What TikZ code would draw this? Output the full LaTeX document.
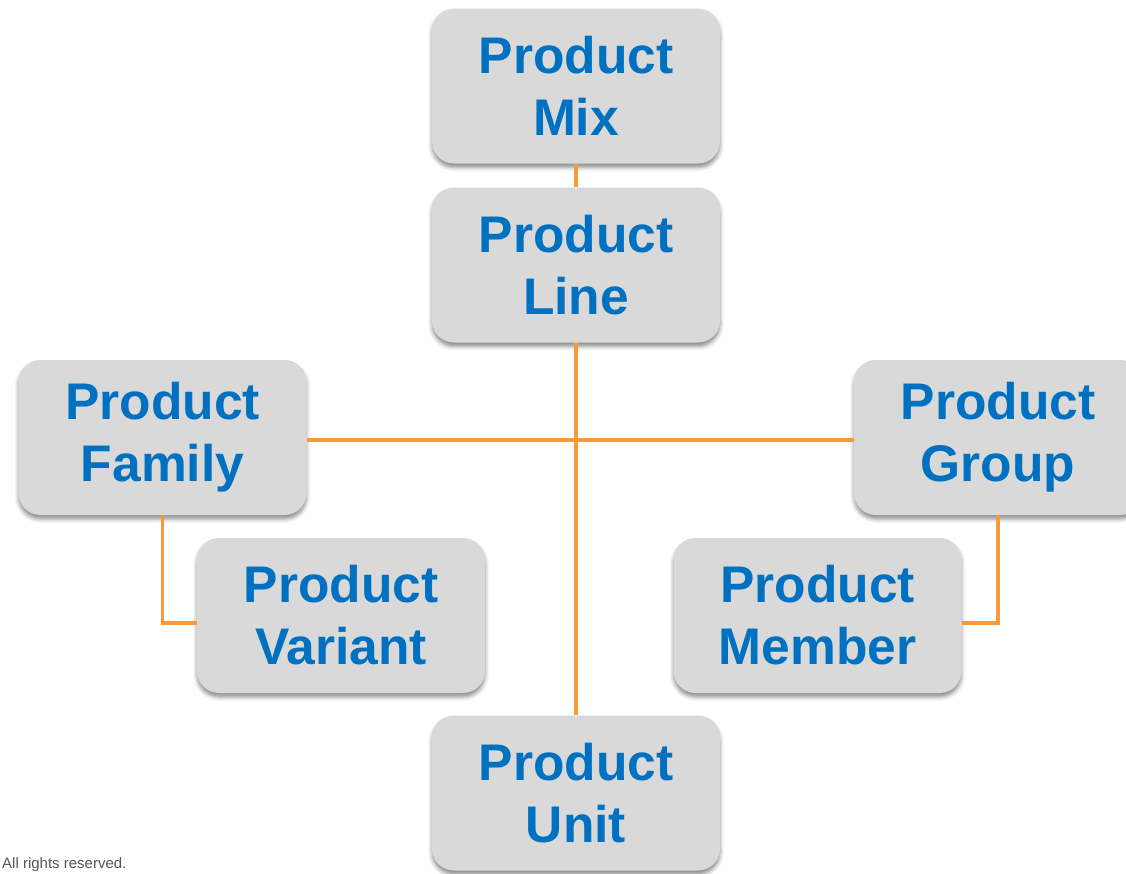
\documentclass[tikz,border=0pt]{standalone}
\usepackage{fontspec}
\setmainfont{Liberation Sans}
\usetikzlibrary{shadows.blur}
\definecolor{boxgray}{HTML}{D9D9D9}
\definecolor{txtblue}{HTML}{0070C0}
\definecolor{linkorange}{HTML}{F99A38}
\definecolor{notegray}{HTML}{555555}
\begin{document}
\begin{tikzpicture}[x=1pt,y=-1pt,
  levelbox/.style={draw=none, fill=boxgray, rounded corners=22pt,
    minimum width=288pt, minimum height=155pt, inner sep=0pt,
    align=center, text=txtblue,
    font=\fontsize{51.5}{62}\selectfont\bfseries,
    blur shadow={shadow xshift=0pt, shadow yshift=-4pt,
      shadow blur radius=4pt, shadow opacity=45}},
  link/.style={draw=linkorange, line width=3.5pt}]
  \useasboundingbox (0,0) rectangle (1126,873);
  \clip (0,0) rectangle (1126,873);

  % hierarchy boxes
  \node[levelbox] (mix)     at (576,86)      {Product\\Mix};
  \node[levelbox] (line)    at (576,265)     {Product\\Line};
  \node[levelbox] (family)  at (162.5,437.5) {Product\\Family};
  \node[levelbox] (group)   at (998,437.5)   {Product\\Group};
  \node[levelbox] (variant) at (341,615.5)   {Product\\Variant};
  \node[levelbox] (member)  at (817.5,615.5) {Product\\Member};
  \node[levelbox] (unit)    at (576,793)     {Product\\Unit};

  % connectors
  \draw[link] (mix.south) -- (line.north);
  \draw[link] (line.south) -- (unit.north);
  \draw[link] ([yshift=-2.5pt]family.east) -- ([yshift=-2.5pt]group.west);
  \draw[link] (family.south) |- ([yshift=-7.5pt]variant.west);
  \draw[link] (group.south) |- ([yshift=-7.5pt]member.east);

  % footer note
  \node[anchor=base west, inner sep=0pt, text=notegray,
        font=\fontsize{15}{18}\selectfont] (note) at (2,868.5) {All rights reserved.};
\end{tikzpicture}
\end{document}
